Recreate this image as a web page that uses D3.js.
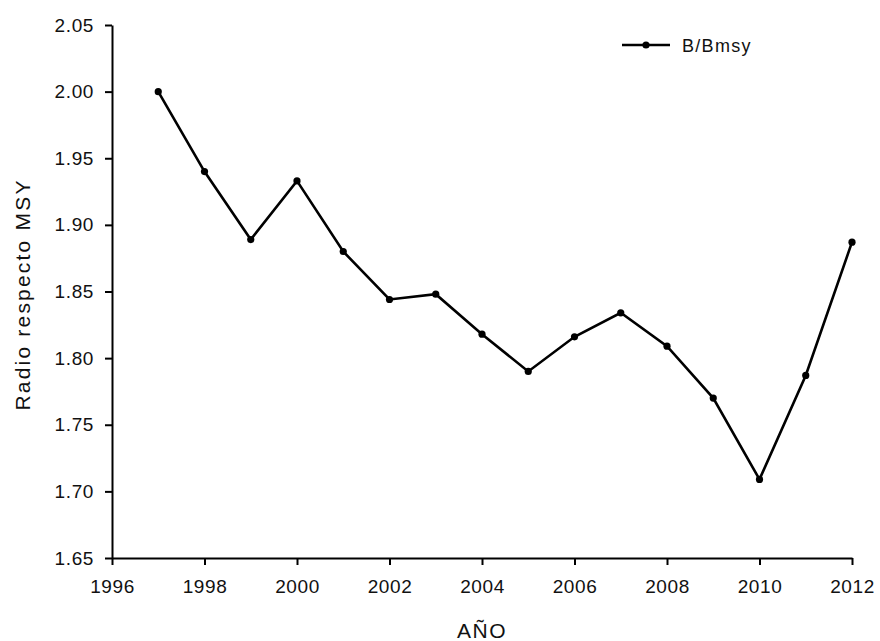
<!DOCTYPE html>
<html>
<head>
<meta charset="utf-8">
<script src="https://cdn.jsdelivr.net/npm/d3@7"></script>
<style>
  html, body { margin: 0; padding: 0; background: #fff; }
  svg { display: block; font-family: "Liberation Sans", Arial, sans-serif; }
</style>
</head>
<body>
<svg id="chart" width="880" height="641"></svg>
<script>
// B/Bmsy ratio by year
const years = [1997, 1998, 1999, 2000, 2001, 2002, 2003, 2004, 2005, 2006, 2007, 2008, 2009, 2010, 2011, 2012];
const ratio = [2.000, 1.940, 1.889, 1.933, 1.880, 1.844, 1.848, 1.818, 1.790, 1.816, 1.834, 1.809, 1.770, 1.709, 1.787, 1.887];
const xTicks = [1996, 1998, 2000, 2002, 2004, 2006, 2008, 2010, 2012];
const yTicks = [1.65, 1.70, 1.75, 1.80, 1.85, 1.90, 1.95, 2.00, 2.05];
const seriesName = "B/Bmsy";

const svg = d3.select("#chart");
const margin = { left: 112, right: 28, top: 25, bottom: 83 };
const W = 880, H = 641;

const x = d3.scaleLinear().domain([1996, 2012]).range([margin.left, W - margin.right]);
const y = d3.scaleLinear().domain([1.65, 2.05]).range([H - margin.bottom, margin.top]);

const xAxis = svg.append("g")
  .attr("transform", `translate(0,${H - margin.bottom})`)
  .call(d3.axisBottom(x).tickValues(xTicks).tickFormat(d3.format("d")).tickSize(7).tickSizeOuter(0).tickPadding(15));
const yAxis = svg.append("g")
  .attr("transform", `translate(${margin.left},0)`)
  .call(d3.axisLeft(y).tickValues(yTicks).tickFormat(d3.format(".2f")).tickSize(7).tickSizeOuter(0).tickPadding(11));

[xAxis, yAxis].forEach(g => {
  g.select(".domain").attr("stroke", "#000").attr("stroke-width", 2);
  g.selectAll(".tick line").attr("stroke", "#000").attr("stroke-width", 2);
  g.selectAll(".tick text").attr("fill", "#111").attr("font-size", 19)
    .attr("letter-spacing", 0.6)
    .attr("font-family", "'Liberation Sans', Arial, sans-serif");
});

// Axis titles
svg.append("text")
  .attr("x", (x.range()[0] + x.range()[1]) / 2)
  .attr("y", 637.5)
  .attr("text-anchor", "middle")
  .attr("font-size", 21)
  .attr("letter-spacing", 1.5)
  .attr("fill", "#111")
  .text("AÑO");

svg.append("text")
  .attr("transform", `translate(30,${(y.range()[0] + y.range()[1]) / 2 + 3}) rotate(-90)`)
  .attr("text-anchor", "middle")
  .attr("font-size", 21)
  .attr("letter-spacing", 2.2)
  .attr("fill", "#111")
  .text("Radio respecto MSY");

// Series line and markers
const data = years.map((yr, i) => ({ yr, v: ratio[i] }));
const line = d3.line().x(d => x(d.yr)).y(d => y(d.v));

svg.append("path")
  .datum(data)
  .attr("fill", "none")
  .attr("stroke", "#000")
  .attr("stroke-width", 2.6)
  .attr("stroke-linejoin", "miter")
  .attr("d", line);

svg.selectAll("circle.pt")
  .data(data)
  .join("circle")
  .attr("class", "pt")
  .attr("cx", d => x(d.yr))
  .attr("cy", d => y(d.v))
  .attr("r", 3.6)
  .attr("fill", "#000");

// Legend
const leg = svg.append("g").attr("transform", "translate(622,45)");
leg.append("line").attr("x1", 0).attr("x2", 48).attr("y1", 0).attr("y2", 0)
  .attr("stroke", "#000").attr("stroke-width", 2.6);
leg.append("circle").attr("cx", 24).attr("cy", 0).attr("r", 3.6).attr("fill", "#000");
leg.append("text").attr("x", 60).attr("y", 6.8).attr("font-size", 18)
  .attr("letter-spacing", 1.3).attr("fill", "#111").text(seriesName);
</script>
</body>
</html>
